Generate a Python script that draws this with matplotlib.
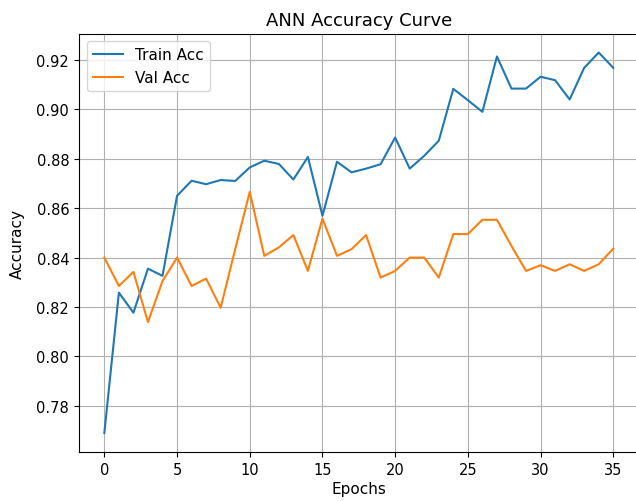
import matplotlib
matplotlib.use("Agg")
import matplotlib.pyplot as plt

epochs = list(range(36))
train_acc = [0.769, 0.8258, 0.8177, 0.8355, 0.8326, 0.865, 0.8711, 0.8697, 0.8714, 0.871,
             0.8765, 0.8792, 0.8779, 0.8716, 0.8807, 0.8569, 0.8788, 0.8745, 0.876, 0.8778,
             0.8886, 0.876, 0.8812, 0.8873, 0.9083, 0.9037, 0.899, 0.9214, 0.9084, 0.9084,
             0.9132, 0.9118, 0.904, 0.9168, 0.923, 0.9168]
val_acc = [0.84, 0.8285, 0.8342, 0.8139, 0.8305, 0.84, 0.8285, 0.8315, 0.8197, 0.8434,
           0.8666, 0.8407, 0.8441, 0.8491, 0.8346, 0.8558, 0.8407, 0.8434, 0.8491, 0.8319,
           0.8346, 0.84, 0.84, 0.8319, 0.8495, 0.8495, 0.8553, 0.8553, 0.8447, 0.8346,
           0.8369, 0.8346, 0.8373, 0.8346, 0.8373, 0.8436]

plt.rcParams['font.size'] = 11
plt.rcParams['xtick.labelsize'] = 10.5
plt.rcParams['ytick.labelsize'] = 10.5

fig = plt.figure(figsize=(6.36, 5.02), dpi=100)
ax = fig.add_axes([78.9 / 636, 49 / 502, 559.8 / 636, 418.5 / 502])
ax.plot(epochs, train_acc, label="Train Acc")
ax.plot(epochs, val_acc, label="Val Acc")
ax.set_title("ANN Accuracy Curve", fontsize=13)
ax.set_xlabel("Epochs", labelpad=3)
ax.set_ylabel("Accuracy", labelpad=8)
ax.legend(loc="upper left")
ax.grid(True)

fig.savefig("out.png", dpi=100)
